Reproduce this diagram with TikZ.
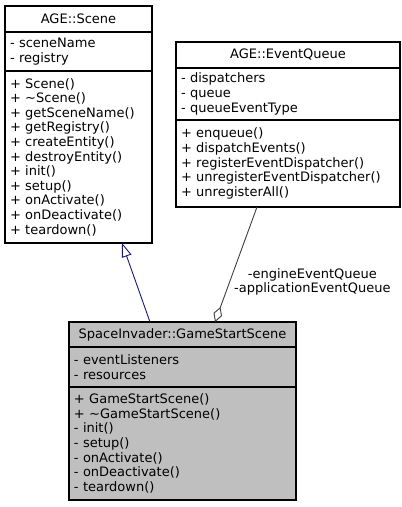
\documentclass[tikz,border=0pt]{standalone}
\usepackage{fontspec}
\setmainfont{DejaVu Sans}
\usepackage{tikz}
\usepackage{xcolor}
\usetikzlibrary{positioning,arrows.meta}
\definecolor{inherit-blue}{HTML}{191970}
\definecolor{aggr-grey}{HTML}{404040}
\tikzset{
    uml-font/.style = {font=\fontsize{13}{14.6}\selectfont},
    class-part/.style = {draw=black, line width=1.1pt, rectangle, outer sep=0pt, inner xsep=5pt, inner ysep=0pt, uml-font},
    class-title/.style = {class-part, align=center},
    class-list/.style = {class-part, align=left},
    current-class/.style = {fill=black!25},
    inherit-line/.style = {draw=inherit-blue, line width=0.9pt, -{Triangle[open, length=14pt, width=10pt, fill=white]}},
    aggr-line/.style = {draw=aggr-grey, line width=0.9pt, {Diamond[open, length=16pt, width=9pt, fill=white]}-},
    edge-label/.style = {uml-font, align=center, inner sep=1pt},
}

\begin{document}
\begin{tikzpicture}[x=1pt, y=-1pt, node distance=0pt]
\useasboundingbox (0,0) rectangle (402,507);

% AGE::Scene
\node [class-title, text width=137pt, minimum height=26pt] (scene-title) at (78.5,19) {AGE::Scene};
\node [class-list, text width=137pt, minimum height=39pt, below=of scene-title] (scene-attr) {- sceneName\\- registry};
\node [class-list, text width=137pt, minimum height=172pt, below=of scene-attr] (scene-ops) {+ Scene()\\+ \textasciitilde Scene()\\+ getSceneName()\\+ getRegistry()\\+ createEntity()\\+ destroyEntity()\\+ init()\\+ setup()\\+ onActivate()\\+ onDeactivate()\\+ teardown()};

% AGE::EventQueue
\node [class-title, text width=214pt, minimum height=26pt] (queue-title) at (288,55) {AGE::EventQueue};
\node [class-list, text width=214pt, minimum height=52pt, below=of queue-title] (queue-attr) {- dispatchers\\- queue\\- queueEventType};
\node [class-list, text width=214pt, minimum height=87pt, below=of queue-attr] (queue-ops) {+ enqueue()\\+ dispatchEvents()\\+ registerEventDispatcher()\\+ unregisterEventDispatcher()\\+ unregisterAll()};

% SpaceInvader::GameStartScene
\node [class-title, current-class, text width=217pt, minimum height=25pt] (start-title) at (182.5,334.5) {SpaceInvader::GameStartScene};
\node [class-list, current-class, text width=217pt, minimum height=40pt, below=of start-title] (start-attr) {- eventListeners\\- resources};
\node [class-list, current-class, text width=217pt, minimum height=113pt, below=of start-attr] (start-ops) {+ GameStartScene()\\+ \textasciitilde GameStartScene()\\- init()\\- setup()\\- onActivate()\\- onDeactivate()\\- teardown()};

% relations
\draw [inherit-line] ([xshift=-32.5pt]start-title.north) -- ([xshift=43.5pt]scene-ops.south);
\draw [aggr-line] ([xshift=32.5pt]start-title.north) -- node [edge-label, pos=0.35, anchor=west, xshift=3pt] (queue-label) {-engineEventQueue\\-applicationEventQueue} ([xshift=-31pt]queue-ops.south);
\end{tikzpicture}
\end{document}
